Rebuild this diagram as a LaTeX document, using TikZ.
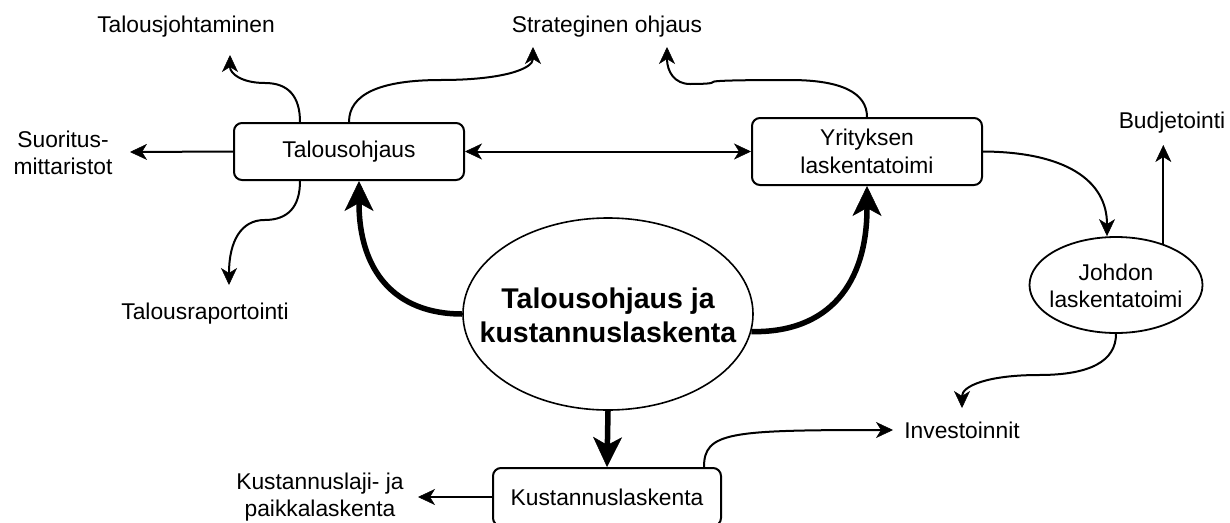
\documentclass[tikz,border=0pt]{standalone}
\usepackage{fontspec}
\setmainfont{Liberation Sans}
\usetikzlibrary{arrows.meta,shapes.geometric,calc}

\tikzset{
  txt/.style={inner sep=0pt, align=center, font=\fontsize{22.8}{27.5}\selectfont},
  boldtxt/.style={inner sep=0pt, align=center, font=\fontsize{28.5}{34}\selectfont\bfseries},
  box/.style={draw, line width=2pt, rounded corners=8pt, inner sep=0pt,
    align=center, font=\fontsize{22.8}{27.5}\selectfont},
  oval/.style={draw, ellipse, inner sep=0pt},
  conn/.style={line width=2pt, -{Stealth[length=17pt,width=16pt,inset=5pt,line width=0.5pt]}},
  biconn/.style={line width=2pt,
    {Stealth[length=17pt,width=16pt,inset=5pt,line width=0.5pt]}-{Stealth[length=17pt,width=16pt,inset=5pt,line width=0.5pt]}},
  bigconn/.style={line width=5.5pt, -{Stealth[length=30pt,width=29pt,inset=8pt,line width=0.5pt]}},
}

\begin{document}
\begin{tikzpicture}[x=1pt,y=-1pt]
\useasboundingbox (0,0) rectangle (1230,522);
\fill[white] (0,0) rectangle (1230,522);

% main blocks
\node[box, minimum width=230pt, minimum height=57pt] (to) at (349,151.5) {Talousohjaus};
\node[box, minimum width=230pt, minimum height=67pt] (yl) at (867,151.5) {Yrityksen\\laskentatoimi};
\node[box, minimum width=228pt, minimum height=58pt] (kl) at (607,497) {Kustannuslaskenta};
\node[oval, line width=1.6pt, minimum width=290pt, minimum height=192pt] (kj) at (608,314) {};
\node[boldtxt] (kjt) at (608,315) {Talousohjaus ja\\kustannuslaskenta};
\node[oval, line width=1.8pt, minimum width=173pt, minimum height=96pt] (jl) at (1116,285) {};
\node[txt] (jlt) at (1116,286) {Johdon\\laskentatoimi};

% free-standing labels
\node[txt] (tj) at (186,27) {Talousjohtaminen};
\node[txt] (so) at (607,27) {Strateginen ohjaus};
\node[txt] (sm) at (63,153) {Suoritus-\\mittaristot};
\node[txt] (tr) at (205,314) {Talousraportointi};
\node[txt] (bu) at (1172,123) {Budjetointi};
\node[txt] (inv) at (962,430) {Investoinnit};
\node[txt] (kp) at (320,497) {Kustannuslaji- ja\\paikkalaskenta};

% arrow end points next to the labels
\coordinate (tj-in) at (230,55);
\coordinate (so-in1) at (533,47);
\coordinate (so-in2) at (667,47);
\coordinate (sm-in) at (130,152);
\coordinate (tr-in) at (229,285);
\coordinate (bu-in) at (1163,145);
\coordinate (inv-in1) at (962,408);
\coordinate (inv-in2) at (893,430);
\coordinate (kp-in) at (418,497);

% connectors from Talousohjaus
\draw[conn] ([xshift=-49pt]to.north) .. controls (300,96.3) and (288.3,83) .. (265,83)
  .. controls (241.7,83) and (230,73.7) .. (tj-in);
\draw[conn] (to.north) .. controls (349,94.3) and (379.7,80) .. (441,80)
  .. controls (502.3,80) and (533,69) .. (so-in1);
\draw[conn] ([xshift=-49pt]to.south) .. controls (300,206.7) and (288.2,220) .. (264.5,220)
  .. controls (240.8,220) and (229,241.7) .. (tr-in);
\draw[conn] (to.west) -- (sm-in);
\draw[biconn] (to.east) -- (to.east -| yl.west);

% connectors from Yrityksen laskentatoimi
\draw[conn] (yl.north) .. controls (867,92.7) and (841.3,80) .. (790,80)
  .. controls (738.7,80) and (713,80.67) .. (713,82)
  .. controls (713,83.33) and (705.3,84) .. (690,84)
  .. controls (674.7,84) and (667,71.7) .. (so-in2);
\draw[conn] (yl.east) .. controls (1065.3,152) and (1107,180.3) .. ([xshift=-9pt]jl.north);

% connectors from Johdon laskentatoimi
\draw[conn] (jl.41) -- (jl.41 |- bu-in);
\draw[conn] (jl.south) .. controls (1116,361) and (1090.3,375) .. (1039,375)
  .. controls (987.7,375) and (962,386) .. (inv-in1);

% connectors from Kustannuslaskenta
\draw[conn] ([xshift=97pt]kl.north) .. controls (704,432) and (730,430) .. (inv-in2);
\draw[conn] (kl.west) -- (kp-in);

% heavy arrows out of the central ellipse
\draw[bigconn] (kj.west) .. controls (394,314) and (359,270) .. ([xshift=10pt]to.south);
\draw[bigconn] (kj.-7.6) .. controls (829,333) and (867,283.7) .. (yl.south);
\draw[bigconn] (kj.south) -- (kl.north);
\end{tikzpicture}
\end{document}
